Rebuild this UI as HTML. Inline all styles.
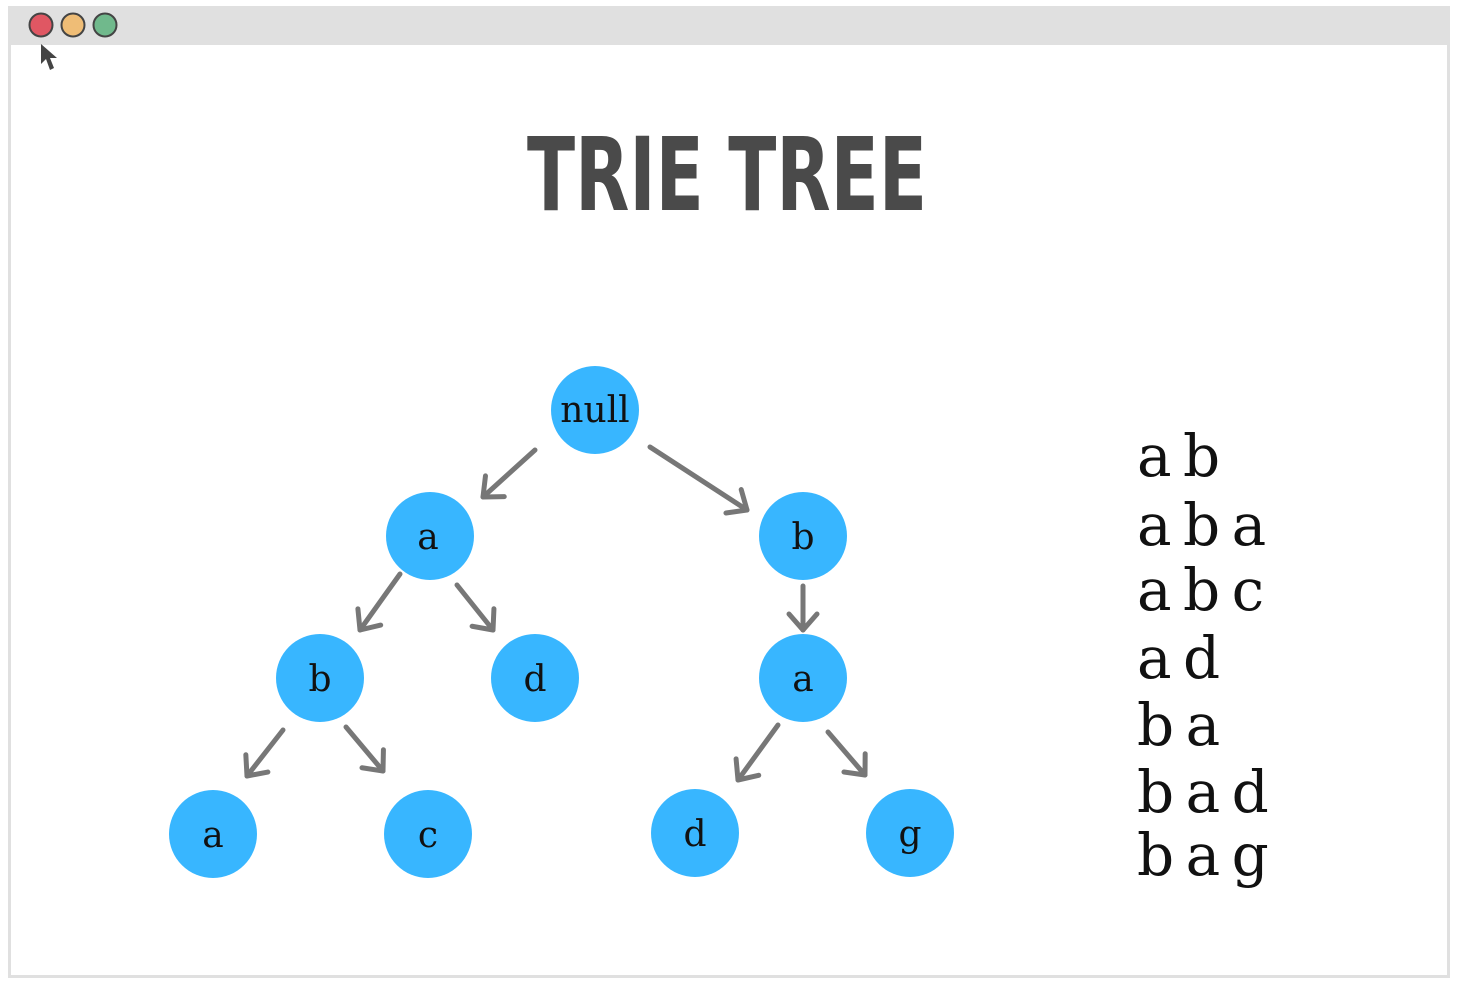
<!DOCTYPE html>
<html><head><meta charset="utf-8"><style>
html,body{margin:0;padding:0;background:#fff;width:1457px;height:988px;overflow:hidden}
</style></head><body>
<svg width="1457" height="988" viewBox="0 0 1457 988" xmlns="http://www.w3.org/2000/svg">
<defs>
<marker id="ah" markerUnits="userSpaceOnUse" markerWidth="40" markerHeight="40" refX="20" refY="20" orient="auto">
<path d="M4,6 L20,20 L4,34" fill="none" stroke="#777" stroke-width="5" stroke-linecap="round" stroke-linejoin="round"/>
</marker>
</defs>
<rect x="9.5" y="7.5" width="1439" height="969" fill="#fff" stroke="#e0e0e0" stroke-width="3"/>
<rect x="8" y="6" width="1442" height="39" fill="#e0e0e0"/>
<circle cx="41" cy="25" r="11.5" fill="#e05763" stroke="#444" stroke-width="2"/>
<circle cx="73" cy="25" r="11.5" fill="#efbd76" stroke="#444" stroke-width="2"/>
<circle cx="105" cy="25" r="11.5" fill="#70b98c" stroke="#444" stroke-width="2"/>
<path d="M41,44 L41,64 L46,59 L50,70 L54,68 L50,58 L57,58 Z" fill="#444"/>
<text x="727" y="210" text-anchor="middle" font-family="'DejaVu Sans Condensed','DejaVu Sans',sans-serif" font-weight="bold" font-size="102" fill="#4a4a4a" textLength="400" lengthAdjust="spacingAndGlyphs">TRIE TREE</text>
<g stroke="#777" stroke-width="5" stroke-linecap="round" marker-end="url(#ah)">
<line x1="535" y1="450" x2="483" y2="497"/>
<line x1="650" y1="447" x2="747" y2="510"/>
<line x1="400" y1="574" x2="360" y2="630"/>
<line x1="457" y1="585" x2="493" y2="630"/>
<line x1="803" y1="586" x2="803" y2="630"/>
<line x1="283" y1="730" x2="247" y2="776"/>
<line x1="346" y1="727" x2="383" y2="771"/>
<line x1="778" y1="725" x2="738" y2="780"/>
<line x1="828" y1="732" x2="865" y2="775"/>
</g>
<g fill="#38b6ff">
<circle cx="595" cy="410" r="44"/>
<circle cx="430" cy="536" r="44"/>
<circle cx="803" cy="536" r="44"/>
<circle cx="320" cy="678" r="44"/>
<circle cx="535" cy="678" r="44"/>
<circle cx="803" cy="678" r="44"/>
<circle cx="213" cy="834" r="44"/>
<circle cx="428" cy="834" r="44"/>
<circle cx="695" cy="833" r="44"/>
<circle cx="910" cy="833" r="44"/>
</g>
<g font-family="'DejaVu Serif','Liberation Serif',serif" font-size="36" fill="#111" text-anchor="middle">
<text x="595" y="422">null</text>
<text x="428" y="549">a</text>
<text x="803" y="549">b</text>
<text x="320" y="691">b</text>
<text x="535" y="691">d</text>
<text x="803" y="691">a</text>
<text x="213" y="847">a</text>
<text x="428" y="847">c</text>
<text x="695" y="846">d</text>
<text x="910" y="846">g</text>
</g>
<g font-family="'DejaVu Serif','Liberation Serif',serif" font-size="58" fill="#111" word-spacing="-7">
<text x="1137" y="476">a b</text>
<text x="1137" y="545">a b a</text>
<text x="1137" y="610">a b c</text>
<text x="1137" y="678">a d</text>
<text x="1137" y="745">b a</text>
<text x="1137" y="812">b a d</text>
<text x="1137" y="875">b a g</text>
</g>
</svg>
</body></html>
